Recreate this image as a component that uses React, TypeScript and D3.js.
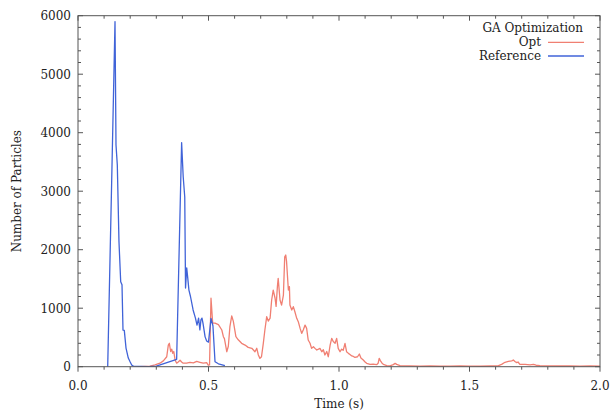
import React from "react";
import * as d3 from "d3";

const optTime = [0.2375,0.276,0.295,0.314,0.327,0.340,0.346,0.350,0.355,0.359,0.363,0.367,0.372,0.378,0.384,0.391,0.397,0.403,0.416,0.429,0.442,0.455,0.467,0.480,0.493,0.499,0.504,0.5096,0.516,0.525,0.538,0.551,0.557,0.561,0.570,0.576,0.582,0.589,0.595,0.605,0.614,0.627,0.640,0.652,0.666,0.678,0.685,0.691,0.697,0.703,0.710,0.716,0.723,0.729,0.736,0.742,0.748,0.755,0.759,0.764,0.767,0.774,0.780,0.787,0.792,0.796,0.799,0.806,0.810,0.812,0.819,0.825,0.831,0.838,0.844,0.851,0.857,0.863,0.870,0.876,0.882,0.889,0.895,0.902,0.908,0.915,0.927,0.934,0.940,0.946,0.953,0.959,0.966,0.972,0.978,0.985,0.991,0.997,1.004,1.010,1.016,1.023,1.029,1.036,1.042,1.049,1.055,1.061,1.071,1.078,1.084,1.093,1.100,1.106,1.119,1.131,1.144,1.150,1.154,1.159,1.165,1.170,1.183,1.195,1.208,1.215,1.221,1.234,1.272,1.310,1.349,1.387,1.425,1.464,1.502,1.540,1.579,1.609,1.623,1.636,1.649,1.662,1.668,1.674,1.681,1.686,1.693,1.713,1.732,1.745,1.755,1.770,1.808,1.847,1.885,1.923,1.962,2.0];
const optValues = [0,10,30,60,100,170,370,400,260,300,230,260,115,60,80,110,80,60,60,75,65,90,75,60,70,25,30,1170,745,745,720,627,513,480,256,350,684,867,780,513,460,400,370,330,315,256,315,200,142,170,400,627,855,780,830,1140,1310,1170,1030,1370,1510,1140,1054,1225,1880,1910,1800,1310,1370,1054,970,1026,940,827,770,655,570,627,712,655,456,400,313,342,313,285,313,256,290,200,260,170,370,485,430,400,485,313,256,300,280,400,256,228,210,183,175,160,170,217,150,115,80,57,40,45,35,60,142,100,60,40,20,15,35,57,40,20,15,10,12,8,10,12,10,8,12,15,40,75,90,100,115,90,70,80,40,40,30,40,25,20,15,12,15,10,12,10];

const refTime = [0.1138,0.129,0.1418,0.1456,0.1506,0.157,0.1636,0.1686,0.1724,0.1774,0.184,0.1927,0.2,0.2057,0.212,0.24,0.27,0.30,0.378,0.397,0.403,0.409,0.412,0.4165,0.420,0.425,0.431,0.441,0.450,0.456,0.462,0.467,0.471,0.475,0.479,0.487,0.493,0.50,0.5096,0.517,0.525,0.538,0.563];
const refValues = [0,3160,5900,3790,3450,2137,1453,1400,627,620,318,148,80,30,10,5,0,10,126,3830,3250,2900,1345,1690,1540,1310,1200,970,830,710,830,630,800,830,740,510,440,420,827,700,85,50,20];

const xTicks = [0.0, 0.5, 1.0, 1.5, 2.0];
const yTicks = [0, 1000, 2000, 3000, 4000, 5000, 6000];
const seriesNames = ["Opt", "Reference"];
const legendTitle = "GA Optimization";
const xLabel = "Time (s)";
const yLabel = "Number of Particles";

const W = 611, H = 411;
const L = 78, R = 600, T = 15.7, B = 366.7;
const RED = "#f07f72";
const BLUE = "#4063d8";
const FRAME = "#555";
const FONT = "DejaVu Serif";

export default function App() {
  const x = d3.scaleLinear().domain([0, 2]).range([L, R]);
  const y = d3.scaleLinear().domain([0, 6000]).range([B, T]);
  const line = d3.line<[number, number]>().x(d => x(d[0])).y(d => y(d[1]));
  const optPts = optTime.map((t, i) => [t, optValues[i]] as [number, number]);
  const refPts = refTime.map((t, i) => [t, refValues[i]] as [number, number]);
  const xMinor = d3.range(0, 2.0001, 0.1);
  const yMinor = d3.range(0, 6001, 200);
  const fmtX = d3.format(".1f");

  return (
    <svg width={W} height={H} style={{ position: "absolute", left: 0, top: 0, background: "#fff" }}>
      <defs>
        <clipPath id="plot"><rect x={L} y={T} width={R - L} height={B - T} /></clipPath>
      </defs>
      <g clipPath="url(#plot)" fill="none" strokeWidth={1.3} strokeLinejoin="round">
        <path d={line(optPts) || ""} stroke={RED} />
        <path d={line(refPts) || ""} stroke={BLUE} />
      </g>
      <rect x={L} y={T} width={R - L} height={B - T} fill="none" stroke={FRAME} strokeWidth={1} />
      {xMinor.map((t, i) => {
        const major = Math.abs(t * 2 - Math.round(t * 2)) < 1e-6;
        const len = major ? 5 : 3;
        return (
          <g key={"xt" + i} stroke={FRAME} strokeWidth={1}>
            <line x1={x(t)} x2={x(t)} y1={B} y2={B + len} />
            <line x1={x(t)} x2={x(t)} y1={T} y2={T + len} />
          </g>
        );
      })}
      {yMinor.map((v, i) => {
        const major = v % 1000 === 0;
        const len = major ? 5 : 3;
        return (
          <g key={"yt" + i} stroke={FRAME} strokeWidth={1}>
            <line x1={L} x2={L + len} y1={y(v)} y2={y(v)} />
            <line x1={R} x2={R - len} y1={y(v)} y2={y(v)} />
          </g>
        );
      })}
      <g fontFamily={FONT} fontSize={12} fill="#222">
        {xTicks.map((t, i) => (
          <text key={"xl" + i} x={x(t)} y={390} textAnchor="middle">{fmtX(t)}</text>
        ))}
        {yTicks.map((v, i) => (
          <text key={"yl" + i} x={71} y={y(v) + 4.3} textAnchor="end">{v}</text>
        ))}
        <text x={(L + R) / 2} y={408} textAnchor="middle">{xLabel}</text>
        <text transform={`translate(20.5,${(T + B) / 2}) rotate(-90)`} textAnchor="middle">{yLabel}</text>
        <text x={583} y={32} textAnchor="end">{legendTitle}</text>
        <text x={541} y={46} textAnchor="end">{seriesNames[0]}</text>
        <text x={541} y={59.5} textAnchor="end">{seriesNames[1]}</text>
      </g>
      <line x1={548} x2={584} y1={42.3} y2={42.3} stroke={RED} strokeWidth={1.3} />
      <line x1={548} x2={584} y1={56} y2={56} stroke={BLUE} strokeWidth={1.3} />
    </svg>
  );
}
